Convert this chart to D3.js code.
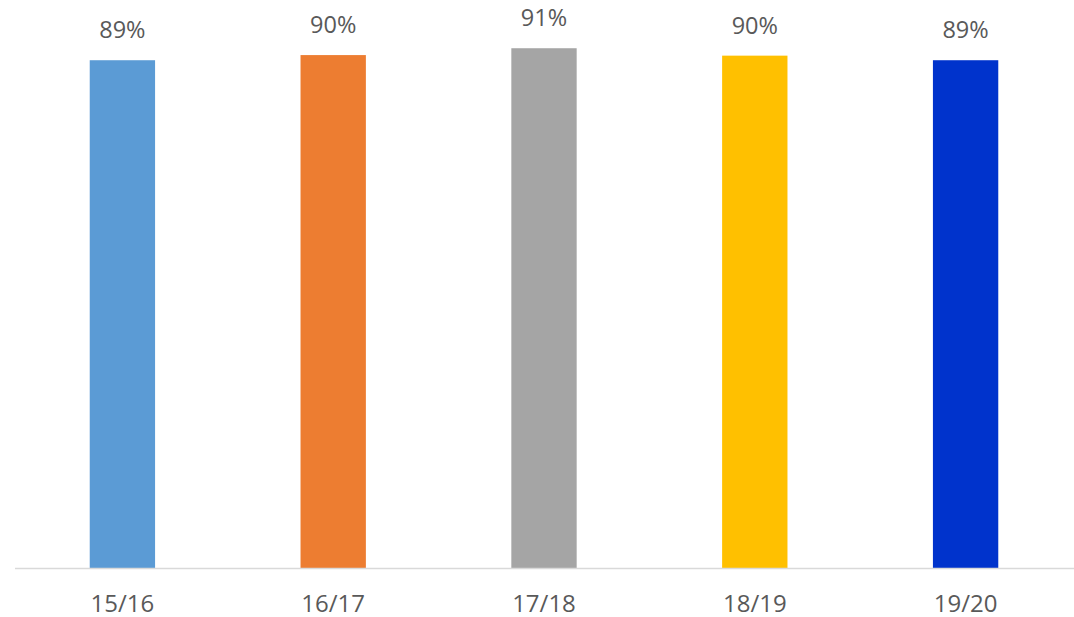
<!DOCTYPE html>
<html>
<head>
<meta charset="utf-8">
<script src="https://cdn.jsdelivr.net/npm/d3@7"></script>
<style>
  body { margin: 0; background: #fff; }
  text { font-family: "Open Sans", sans-serif; fill: #595959; }
</style>
</head>
<body>
<div id="chart"></div>
<script>
const years = ["15/16", "16/17", "17/18", "18/19", "19/20"];
const rates = [0.89, 0.899, 0.911, 0.898, 0.89];
const colors = ["#5B9BD5", "#ED7D31", "#A5A5A5", "#FFC000", "#0033CC"];

const width = 1074, height = 617;
const baseY = 568.5;

const svg = d3.select("#chart")
    .append("svg")
    .attr("width", width)
    .attr("height", height);

const x = d3.scaleBand()
    .domain(years)
    .range([17, 1071])
    .paddingInner(0.69)
    .paddingOuter(0.345);

const y = d3.scaleLinear()
    .domain([0, 1])
    .range([baseY, baseY - 571.1]);

const data = years.map((yr, i) => ({ yr, v: rates[i], c: colors[i] }));

svg.selectAll("rect")
    .data(data)
    .enter()
    .append("rect")
    .attr("x", d => x(d.yr))
    .attr("y", d => y(d.v))
    .attr("width", x.bandwidth())
    .attr("height", d => baseY - y(d.v))
    .attr("fill", d => d.c);

svg.append("line")
    .attr("x1", 15)
    .attr("x2", width)
    .attr("y1", baseY)
    .attr("y2", baseY)
    .style("stroke", "#D9D9D9")
    .style("stroke-width", 1.5);

svg.selectAll(".val")
    .data(data)
    .enter()
    .append("text")
    .attr("class", "val")
    .attr("x", d => x(d.yr) + x.bandwidth() / 2)
    .attr("y", d => y(d.v) - 22)
    .attr("text-anchor", "middle")
    .style("font-size", "23.5px")
    .text(d => d3.format(".0%")(d.v));

svg.selectAll(".cat")
    .data(years)
    .enter()
    .append("text")
    .attr("class", "cat")
    .attr("x", d => x(d) + x.bandwidth() / 2)
    .attr("y", 611.5)
    .attr("text-anchor", "middle")
    .style("font-size", "24px")
    .text(d => d);
</script>
</body>
</html>
